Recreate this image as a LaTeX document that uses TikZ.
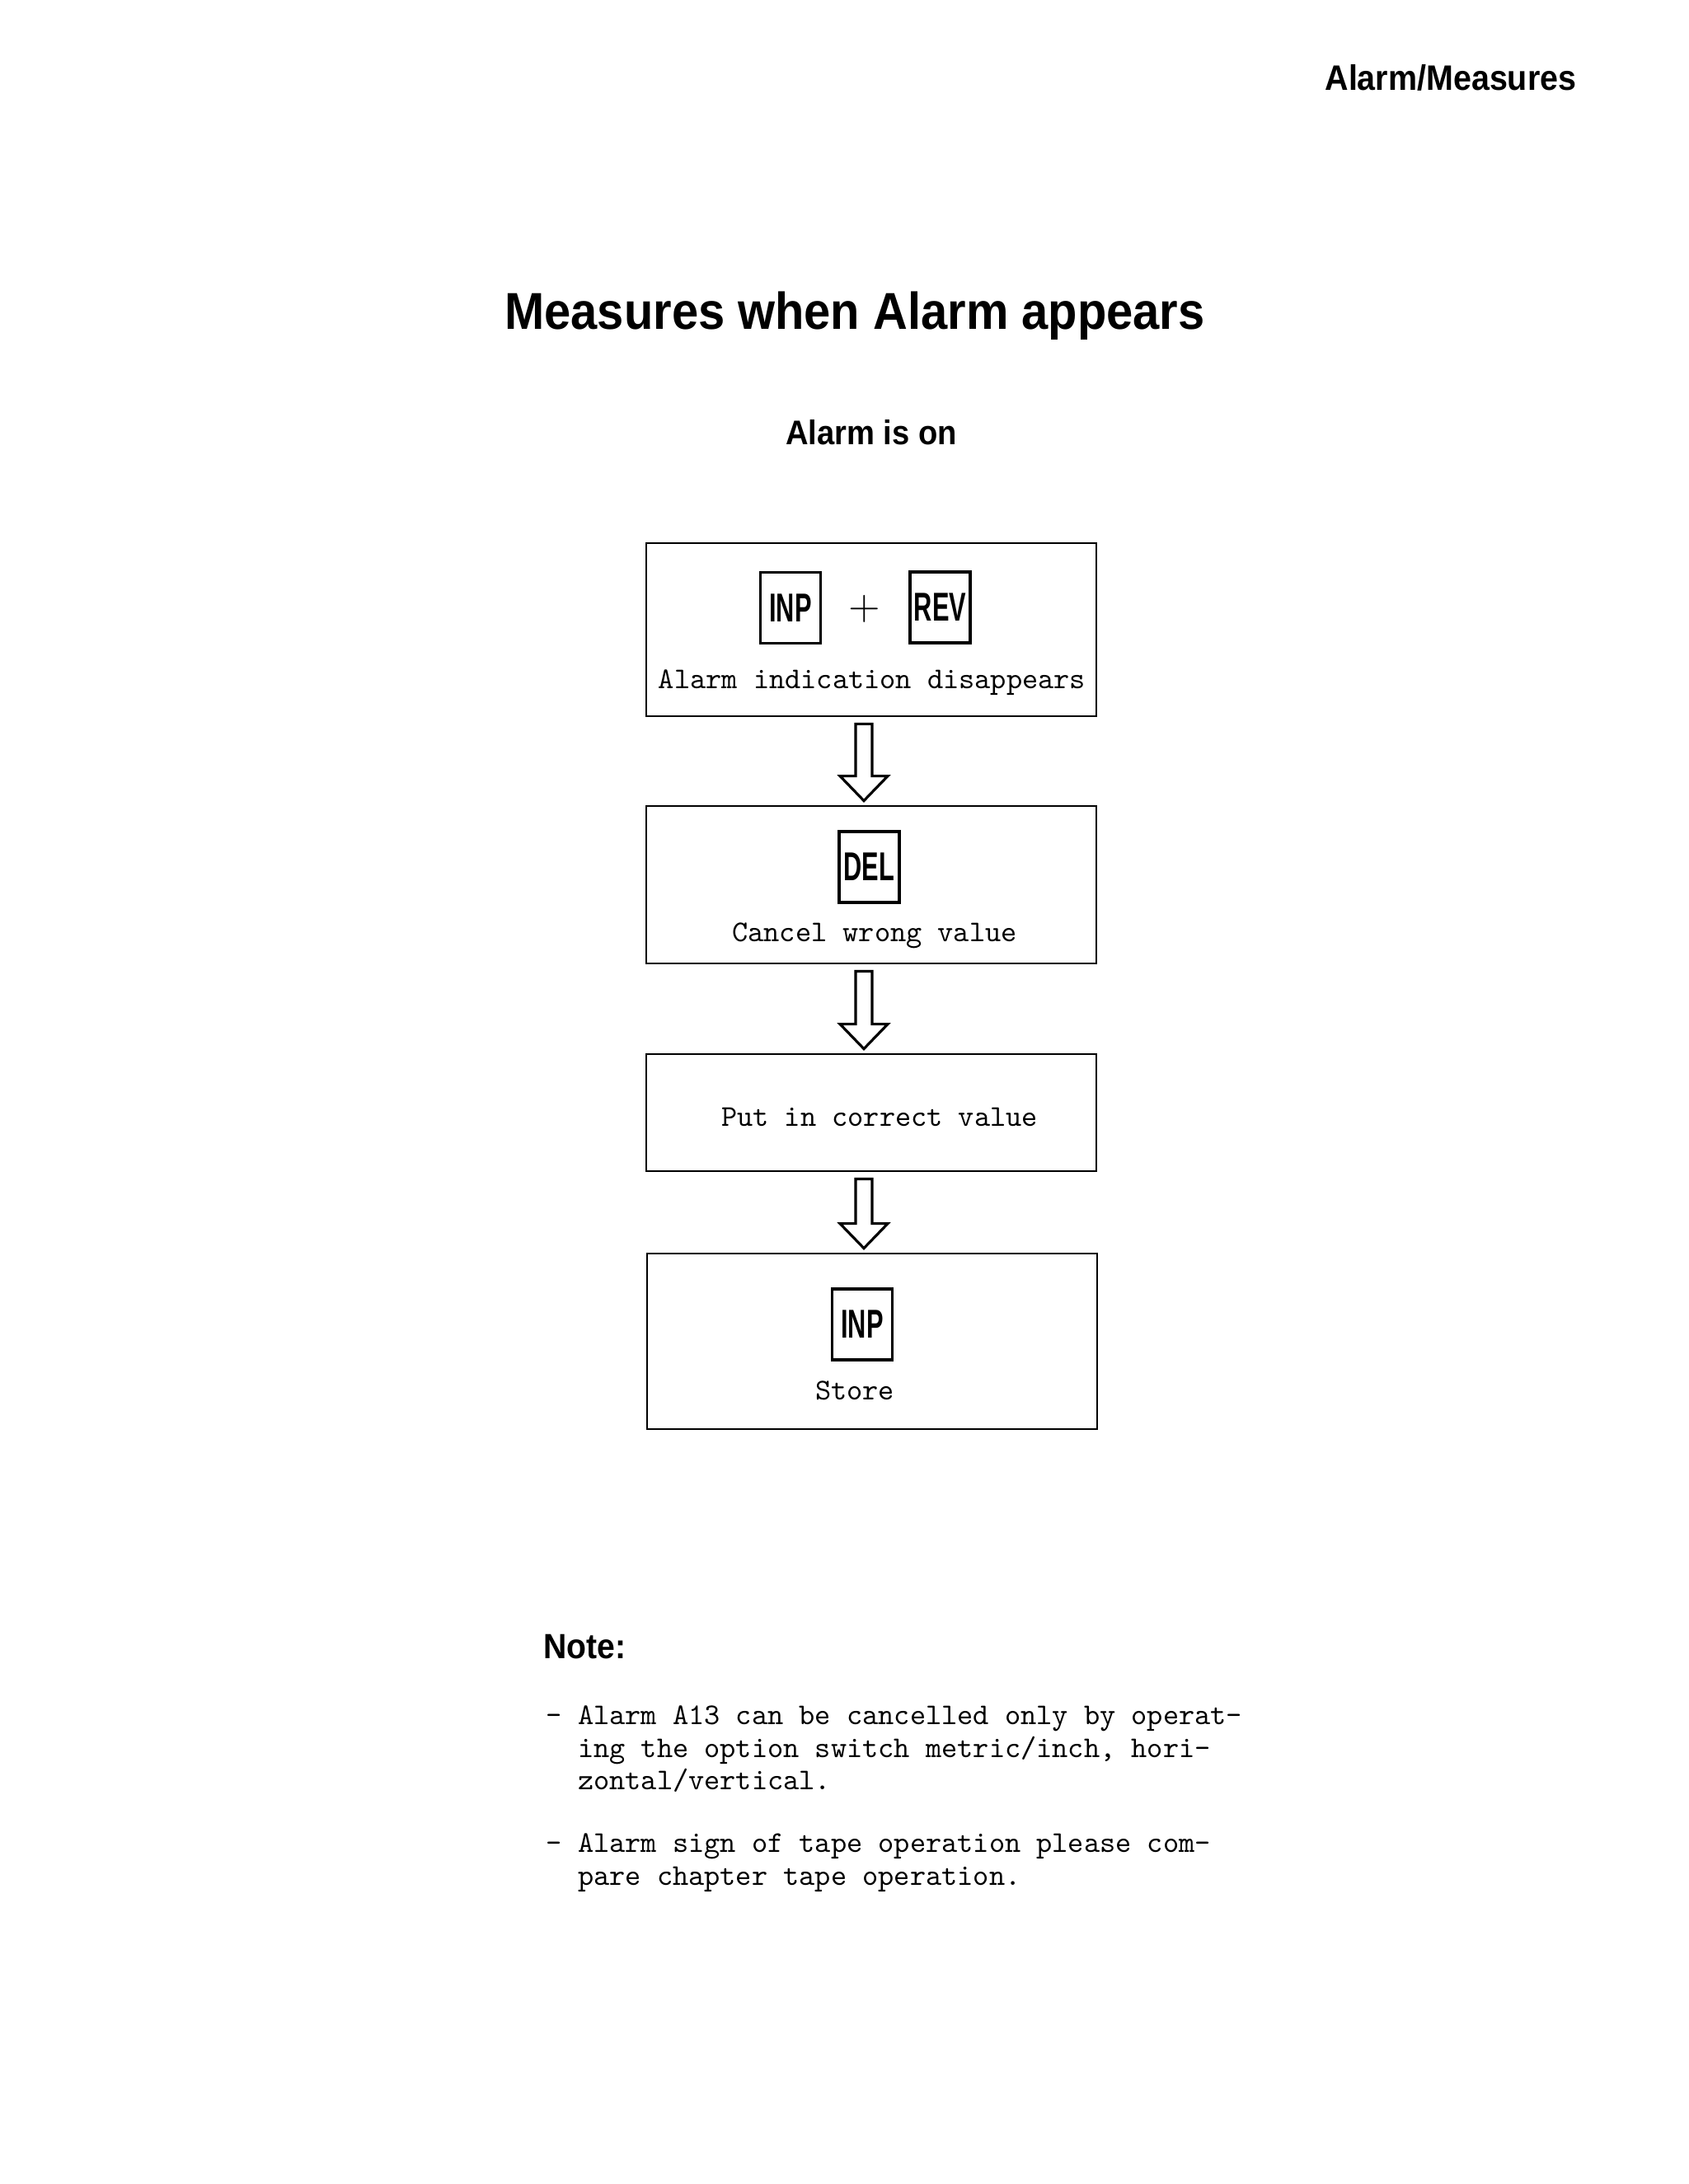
\documentclass[tikz,border=0pt]{standalone}
\usepackage{fontspec}
\setmainfont{Liberation Sans}
\newfontfamily\headfont{Liberation Sans}[FakeStretch=0.92]
\newfontfamily\keyfont{Liberation Sans}[FakeStretch=0.63]
\usetikzlibrary{calc}

\tikzset{
  stepframe/.style={draw, line width=0.8pt, minimum width=5.46cm, inner sep=0pt},
  keybox/.style={draw, line width=1.1pt, minimum width=0.73cm, minimum height=0.86cm, inner sep=0pt,
    font=\keyfont\bfseries\fontsize{13.9}{13.9}\selectfont},
  steptext/.style={font=\ttfamily\fontsize{10.4}{12}\selectfont, inner sep=0pt},
  notetext/.style={steptext, anchor=base west},
  headtext/.style={font=\headfont\bfseries, inner sep=0pt},
  arrowline/.style={draw, line width=0.9pt, line join=miter},
}

% hollow block arrow from one step box down to the next
\newcommand{\flowarrow}[2]{%
  \draw[arrowline] let \p1=($(#1.south)+(-0.09,-0.08)$), \p2=($(#2.north)+(-0.09,0.05)$) in
    (\x1-0.10cm,\y1) -- (\x1+0.10cm,\y1) -- (\x1+0.10cm,\y2+0.30cm) -- (\x1+0.29cm,\y2+0.30cm)
    -- (\x1,\y2) -- (\x1-0.29cm,\y2+0.30cm) -- (\x1-0.10cm,\y2+0.30cm) -- cycle;}

\begin{document}
\begin{tikzpicture}

\useasboundingbox[fill=white] (0,0) rectangle (20.48,-26.50);

% headings
\node[headtext, anchor=base east, font=\headfont\bfseries\fontsize{12.2}{14}\selectfont] (chapter) at (19.13,-1.10) {Alarm/Measures};
\node[headtext, anchor=base, font=\headfont\bfseries\fontsize{17.9}{20}\selectfont] (title) at (10.37,-3.99) {Measures when Alarm appears};
\node[headtext, anchor=base, font=\headfont\bfseries\fontsize{11.8}{14}\selectfont] (start) at (10.57,-5.39) {Alarm is on};

% step boxes
\node[stepframe, minimum height=2.10cm] (ack) at (10.57,-7.64) {};
\node[stepframe, minimum height=1.91cm] (del) at (10.57,-10.735) {};
\node[stepframe, minimum height=1.42cm] (put) at (10.57,-13.50) {};
\node[stepframe, minimum height=2.13cm] (store) at (10.58,-16.275) {};

% keys
\node[keybox] (inpA) at (9.59,-7.375) {INP};
\node (plus) at (10.49,-7.39) {\fontsize{15}{15}\selectfont$+$};
\node[keybox] (rev) at (11.405,-7.37) {REV};
\node[keybox] (delkey) at (10.545,-10.52) {DEL};
\node[keybox] (inpB) at (10.46,-16.07) {INP};

% step texts
\node[steptext] (ackText) at (10.58,-8.28) {Alarm indication disappears};
\node[steptext] (delText) at (10.61,-11.35) {Cancel wrong value};
\node[steptext] (putText) at (10.67,-13.55) {Put in correct value};
\node[steptext] (storeText) at (10.37,-16.87) {Store};

\flowarrow{ack}{del}
\flowarrow{del}{put}
\flowarrow{put}{store}

% note
\node[headtext, anchor=base west, font=\headfont\bfseries\fontsize{12.1}{14}\selectfont] (note) at (6.59,-20.12) {Note:};
\node[notetext] (noteA1) at (6.62,-20.92) {- Alarm A13 can be cancelled only by operat-};
\node[notetext] (noteA2) at (6.62,-21.32) {\phantom{- }ing the option switch metric/inch, hori-};
\node[notetext] (noteA3) at (6.62,-21.71) {\phantom{- }zontal/vertical.};
\node[notetext] (noteB1) at (6.62,-22.47) {- Alarm sign of tape operation please com-};
\node[notetext] (noteB2) at (6.62,-22.87) {\phantom{- }pare chapter tape operation.};

\end{tikzpicture}
\end{document}
